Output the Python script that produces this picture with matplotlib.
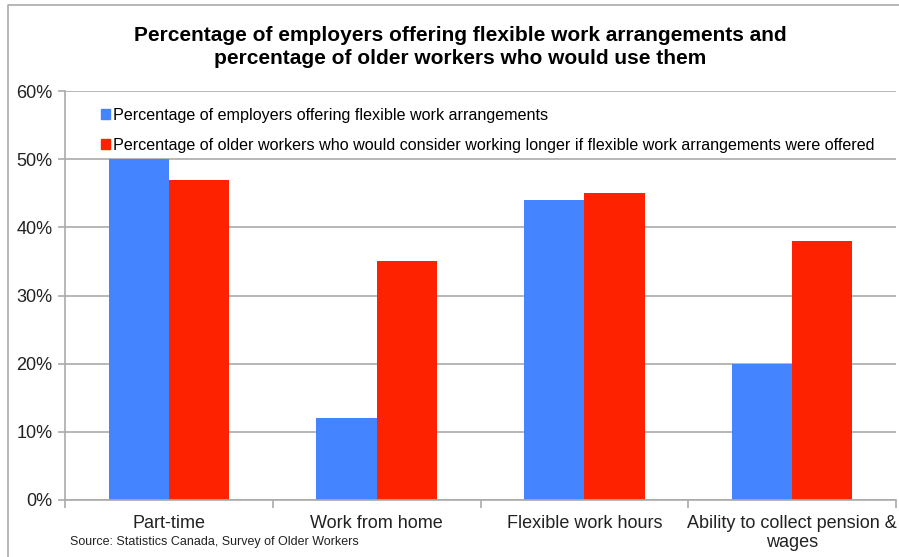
import matplotlib.pyplot as plt
from matplotlib.lines import Line2D
from matplotlib.patches import Patch
import numpy as np

plt.rcParams['font.family'] = ['Liberation Sans', 'DejaVu Sans']

categories = ['Part-time', 'Work from home', 'Flexible work hours',
              'Ability to collect pension &\nwages']
employers = [50, 12, 44, 20]
workers = [47, 35, 45, 38]
series_names = ['Percentage of employers offering flexible work arrangements',
                'Percentage of older workers who would consider working longer if flexible work arrangements were offered']
yticks = [0, 10, 20, 30, 40, 50, 60]

BLUE = '#4584FF'
RED = '#FF2200'

fig = plt.figure(figsize=(8.99, 5.57), dpi=100)
ax = fig.add_axes([65/899, 57/557, 831/899, 409/557])

x = np.arange(len(categories))
w = 0.29
ax.bar(x - w/2, employers, w, color=BLUE, zorder=2)
ax.bar(x + w/2, workers, w, color=RED, zorder=2)

ax.set_xlim(-0.5, len(categories) - 0.5)
ax.set_ylim(0, 60)
ax.set_yticks(yticks)
ax.set_yticklabels([f'{t}%' for t in yticks], fontsize=13, color='#222222')
ax.yaxis.grid(True, color='#aaaaaa', linewidth=1.2, zorder=0)
ax.set_xticks(x)
ax.set_xticklabels(categories, fontsize=13, color='#222222', linespacing=1.1)
ax.tick_params(axis='x', length=0, pad=11)
ax.tick_params(axis='y', length=5, color='#aaaaaa', width=1.2, pad=4)
ax.set_xticks(np.arange(len(categories) + 1) - 0.5, minor=True)
ax.tick_params(axis='x', which='minor', length=6, color='#aaaaaa', width=1.2, direction='out')
for s in ['top', 'right']:
    ax.spines[s].set_visible(False)
for s in ['left', 'bottom']:
    ax.spines[s].set_color('#aaaaaa')
    ax.spines[s].set_linewidth(1.2)

handles = [Patch(color=BLUE), Patch(color=RED)]
ax.legend(handles, series_names, loc='upper left', bbox_to_anchor=(0.035, 0.975),
          frameon=False, fontsize=11.6, handlelength=0.6, handleheight=0.6,
          handletextpad=0.2, labelspacing=0.95, borderaxespad=0)

fig.text(0.512, 0.915, 'Percentage of employers offering flexible work arrangements and\npercentage of older workers who would use them',
         ha='center', va='center', fontsize=15, fontweight='bold', linespacing=1.25)
fig.text(70/899, 15/557, 'Source: Statistics Canada, Survey of Older Workers',
         ha='left', va='center', fontsize=9, color='#222222')

# outer frame line (top and left)
fig.add_artist(Line2D([8/899, 8/899, 1], [0, 1 - 5/557, 1 - 5/557],
                      transform=fig.transFigure, color='#aaaaaa', linewidth=1.2))

fig.savefig('out.png', dpi=100)
